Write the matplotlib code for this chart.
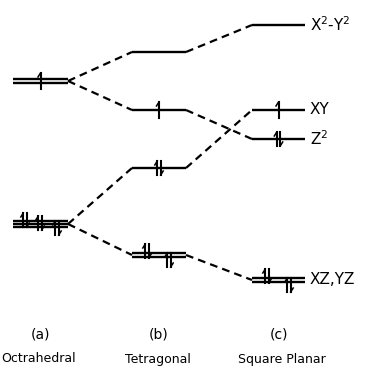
import numpy as np
import matplotlib.pyplot as plt

# energy levels (arbitrary units, higher = higher energy)
geometries = ['Octrahedral', 'Tetragonal', 'Square Planar']
panel_tags = ['(a)', '(b)', '(c)']
oct_levels = [288, 145]            # eg, t2g
tet_levels = [317, 259, 201, 114]  # x2-y2, z2, xy, xz/yz
sq_levels = [344, 259, 230, 89]    # x2-y2, xy, z2, xz/yz
sq_labels = ['X$^2$-Y$^2$', 'XY', 'Z$^2$', 'XZ,YZ']

# degeneracy (number of drawn lines) and electrons per level
oct_deg = [2, 3]
oct_elec = [[1], [2, 2, 2]]
tet_deg = [1, 1, 1, 2]
tet_elec = [[], [1], [2], [2, 2]]
sq_deg = [1, 1, 1, 2]
sq_elec = [[], [1], [2], [2, 2]]

# correlation lines: (from column, from level index, to level index)
links = [(0, 0, 0), (0, 0, 1), (0, 1, 2), (0, 1, 3),
         (1, 0, 0), (1, 1, 2), (1, 2, 1), (1, 3, 3)]

fig = plt.figure(figsize=(3.66, 3.69), dpi=100)
ax = fig.add_axes([0, 0, 1, 1])
ax.set_xlim(0, 366)
ax.set_ylim(0, 369)
ax.axis('off')

cols = [(13, 68), (132, 186), (252, 305)]
levels = [oct_levels, tet_levels, sq_levels]
degs = [oct_deg, tet_deg, sq_deg]
elecs = [oct_elec, tet_elec, sq_elec]


def draw_stroke(x, ylo, yhi, up=True):
    ax.plot([x, x], [ylo, yhi], color='black', lw=1.5)
    if up:
        ax.plot([x, x - 2.5], [yhi, yhi - 4], color='black', lw=1.1)
    else:
        ax.plot([x, x + 2.5], [ylo, ylo + 4], color='black', lw=1.1)


def draw_single(x, y):
    draw_stroke(x, y - 8, y + 8, True)


def draw_pair(x, y, shift=0):
    # shift > 0: pair sits above the line, < 0 below
    lo, hi = y - 7 + shift, y + 7 + shift
    draw_stroke(x - 1.7, lo, hi, True)
    draw_stroke(x + 1.7, lo, hi, False)


for c, (x0, x1) in enumerate(cols):
    for i, E in enumerate(levels[c]):
        n = degs[c][i]
        offs = np.linspace(-1.7 * (n - 1), 1.7 * (n - 1), n) if n > 1 else [0]
        for o in offs:
            ax.plot([x0, x1], [E + o, E + o], color='black', lw=1.7,
                    solid_capstyle='butt')
        e = elecs[c][i]
        if not e:
            continue
        if c == 0 and n == 3:
            xs = [x0 + 12, x0 + 27, x0 + 44]
            shifts = [4, 1, -4]
        elif n == 2 and c > 0:
            xs = [x0 + 15, x0 + 37]
            shifts = [4, -5]
        else:
            xs = [(x0 + x1) / 2]
            shifts = [0]
        for xe, ne, sh in zip(xs, e, shifts):
            if ne == 1:
                draw_single(xe, E)
            else:
                draw_pair(xe, E, sh)

for c, a, b in links:
    x0 = cols[c][1]
    x1 = cols[c + 1][0]
    ax.plot([x0, x1], [levels[c][a], levels[c + 1][b]], color='black',
            lw=1.6, ls=(0, (3.5, 2.3)))

for i, lab in enumerate(sq_labels):
    ax.text(310, sq_levels[i], lab, fontsize=11, va='center', ha='left')

tag_x = [40, 159, 279]
name_x = [39, 158, 282]
for i in range(3):
    ax.text(tag_x[i], 34, panel_tags[i], fontsize=10, ha='center', va='center')
    ax.text(name_x[i], 10, geometries[i], fontsize=9, ha='center', va='center')

fig.savefig('out.png', dpi=100)
